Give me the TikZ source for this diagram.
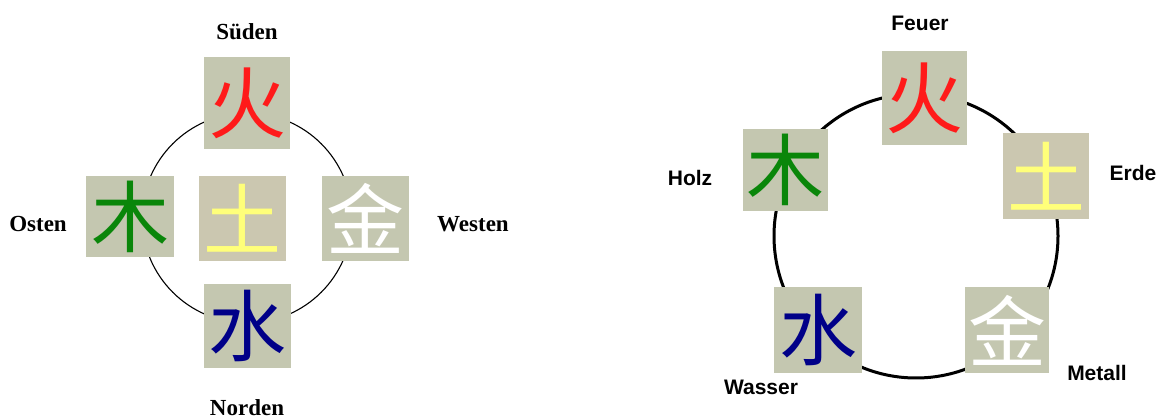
\documentclass[tikz,border=0pt]{standalone}
\usepackage{fontspec}
\setmainfont{Liberation Serif}
\newfontfamily\labsans{Liberation Sans}
\newfontfamily\cjk{Noto Sans CJK SC}
\definecolor{boxgrey}{HTML}{C4C7B0}
\definecolor{boxbeige}{HTML}{CBC7B0}
\definecolor{firered}{HTML}{FF1A1A}
\definecolor{woodgreen}{HTML}{0A860A}
\definecolor{earthyellow}{HTML}{FFFF7A}
\definecolor{waterblue}{HTML}{000088}
\begin{document}
\begin{tikzpicture}[x=1pt,y=-1pt,
  elem/.style={fill=boxgrey, inner sep=0pt, minimum width=86pt, minimum height=88pt,
    font=\cjk\fontsize{78}{78}\selectfont},
  dirlab/.style={font=\bfseries\fontsize{23}{23}\selectfont, inner sep=0pt},
  namelab/.style={font=\labsans\bfseries\fontsize{21}{21}\selectfont, inner sep=0pt},
  thinring/.style={draw=black, line width=1.1pt},
  thickring/.style={draw=black, line width=3pt}]
\useasboundingbox (0,0) rectangle (1170,419);
% left panel
\coordinate (lc) at (247,218);
\draw[thinring] (lc) circle[radius=105];
\node[elem, minimum height=92pt, text=firered] (lfire) at (247,103) {火};
\node[elem, minimum width=88pt, minimum height=81pt, text=woodgreen] (lwood) at (130,216.5) {木};
\node[elem, fill=boxbeige, minimum width=87pt, minimum height=85pt, text=earthyellow] (learth) at (242.5,218.5) {土};
\node[elem, minimum width=87pt, minimum height=85pt, text=white] (lmetal) at (365.5,218.5) {金};
\node[elem, minimum width=87pt, minimum height=84pt, text=waterblue] (lwater) at (247.5,326) {水};
\node[dirlab] (sued) at (247,32) {Süden};
\node[dirlab] (ost) at (38,224) {Osten};
\node[dirlab] (west) at (473,224) {Westen};
\node[dirlab] (nord) at (247,408) {Norden};
% right panel
\coordinate (rc) at (916,236);
\draw[thickring] (rc) circle[radius=142];
\node[elem, minimum width=85pt, minimum height=94pt, text=firered] (rfire) at (924.5,98) {火};
\node[elem, fill=boxbeige, minimum width=86pt, minimum height=86pt, text=earthyellow] (rearth) at (1046,176) {土};
\node[elem, minimum width=84pt, minimum height=86pt, text=white] (rmetal) at (1007,330) {金};
\node[elem, minimum width=88pt, minimum height=86pt, text=waterblue] (rwater) at (818,330) {水};
\node[elem, minimum width=85pt, minimum height=82pt, text=woodgreen] (rwood) at (785.5,170) {木};
\node[namelab] (feuer) at (920,23) {Feuer};
\node[namelab] (holz) at (690,178) {Holz};
\node[namelab] (erde) at (1133,173) {Erde};
\node[namelab] (metall) at (1097,373) {Metall};
\node[namelab] (wasser) at (761,387) {Wasser};
\end{tikzpicture}
\end{document}
